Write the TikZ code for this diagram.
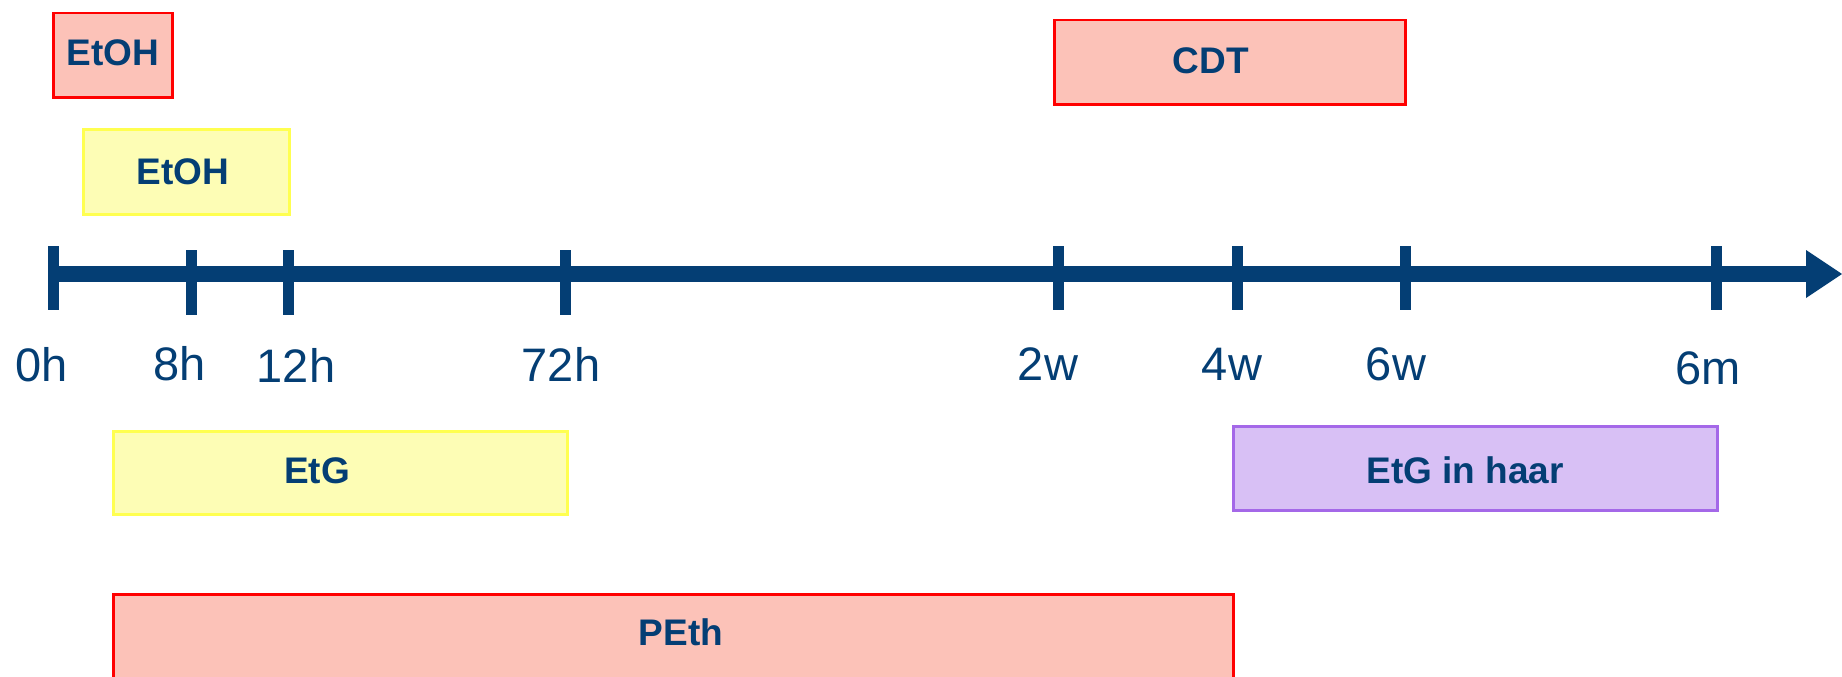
\documentclass[tikz,border=0pt]{standalone}
\usepackage{fontspec}
\setmainfont{Liberation Sans}
\definecolor{navy}{RGB}{4,62,116}
\definecolor{pinkfill}{RGB}{252,194,184}
\definecolor{redline}{RGB}{255,0,0}
\definecolor{yelfill}{RGB}{253,253,181}
\definecolor{yelline}{RGB}{255,255,80}
\definecolor{purfill}{RGB}{216,192,245}
\definecolor{purline}{RGB}{164,104,232}
\tikzset{
  box/.style={draw, line width=2.5pt, inner sep=0pt, anchor=north west},
  redbox/.style={box, draw=redline, fill=pinkfill},
  yelbox/.style={box, draw=yelline, fill=yelfill},
  purbox/.style={box, draw=purline, fill=purfill},
  boxtext/.style={text=navy, font=\fontsize{37}{40}\selectfont\bfseries, inner sep=0pt},
  ticklabel/.style={text=navy, font=\fontsize{47}{50}\selectfont, inner sep=0pt},
  tickmark/.style={draw=navy, line width=11pt},
  axisline/.style={draw=navy, line width=16pt}
}
\begin{document}
\begin{tikzpicture}[x=1pt,y=-1pt]
\useasboundingbox (0,0) rectangle (1842,677);
% boxes
\node[redbox, minimum width=119pt, minimum height=84pt] (etohr) at (52,12) {};
\node[boxtext] (etohrt) at (113,53) {EtOH};
\node[yelbox, minimum width=206pt, minimum height=85pt] (etohy) at (82,128) {};
\node[boxtext] (etohyt) at (183,172) {EtOH};
\node[redbox, minimum width=351pt, minimum height=84pt] (cdt) at (1053,19) {};
\node[boxtext] (cdtt) at (1211,61) {CDT};
\node[yelbox, minimum width=454pt, minimum height=83pt] (etg) at (112,430) {};
\node[boxtext] (etgt) at (317,471) {EtG};
\node[purbox, minimum width=484pt, minimum height=84pt] (etgh) at (1232,425) {};
\node[boxtext] (etght) at (1465,470) {EtG in haar};
\node[redbox, minimum width=1120pt, minimum height=100pt] (peth) at (112,593) {};
\node[boxtext] (petht) at (681,632) {PEth};
% axis
\coordinate (start) at (48,274);
\coordinate (base) at (1808,274);
\draw[axisline] (start) -- (base);
\fill[navy] (1806,250) -- (1842,274) -- (1806,298) -- cycle;
% ticks
\foreach \x/\t/\b in {53/246/310, 191/250/315, 288/250/315, 565/250/315, 1058/246/310, 1237/246/310, 1405/246/310, 1716/246/310}{
  \draw[tickmark] (\x,\t) -- (\x,\b);
}
% tick labels
\node[ticklabel] (l0h) at (42,365) {0h};
\node[ticklabel] (l8h) at (180,364) {8h};
\node[ticklabel] (l12h) at (296,365) {12h};
\node[ticklabel] (l72h) at (561,364) {72h};
\node[ticklabel] (l2w) at (1048,364) {2w};
\node[ticklabel] (l4w) at (1232,364) {4w};
\node[ticklabel] (l6w) at (1396,364) {6w};
\node[ticklabel] (l6m) at (1708,368) {6m};
\end{tikzpicture}
\end{document}
